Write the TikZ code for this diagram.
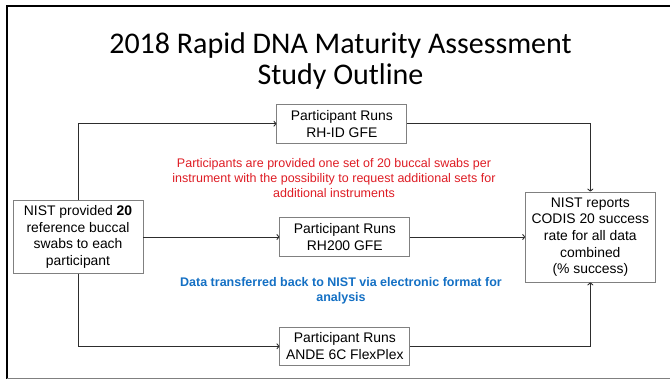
\documentclass[tikz,border=0pt]{standalone}
\usepackage{fontspec}
\setmainfont{Liberation Sans}
\newfontfamily\titlefont{Carlito}
\usepackage{tikz}
\usetikzlibrary{positioning,arrows.meta}
\usepackage{xcolor}

\definecolor{boxgray}{RGB}{128,128,128}
\definecolor{linegray}{RGB}{45,45,45}
\definecolor{notered}{RGB}{222,28,36}
\definecolor{noteblue}{RGB}{20,112,196}

\begin{document}
\begin{tikzpicture}[
    x=1pt, y=-1pt,
    stepbox/.style={
        rectangle,
        draw=boxgray,
        line width=0.8pt,
        fill=white,
        minimum width=130pt,
        minimum height=38.5pt,
        align=center,
        font=\fontsize{13.9}{16.7}\selectfont
    },
    flow/.style={
        draw=linegray,
        line width=0.9pt,
        -{To[length=3pt,width=6pt]}
    },
    note/.style={
        align=center,
        font=\fontsize{12.5}{15}\selectfont
    }
]

\useasboundingbox (0,0) rectangle (670,379);

% slide frame
\draw[line width=2pt] (7,379) -- (7,6) -- (671,6);
\draw[boxgray, line width=1pt] (7,378.3) -- (671,378.3);

\node[align=center, font=\titlefont\fontsize{30}{31}\selectfont] (title) at (340.5,61)
{2018 Rapid DNA Maturity Assessment\\Study Outline};

\node[stepbox, minimum height=72.5pt] (provided) at (78,237)
{NIST provided \textbf{20}\\reference buccal\\swabs to each\\participant};

\node[stepbox, right=136pt of provided] (rhtwo)
{Participant Runs\\RH200 GFE};

\node[stepbox, above=74pt of rhtwo, xshift=-3pt] (rhid)
{Participant Runs\\RH-ID GFE};

\node[stepbox, below=70pt of rhtwo] (ande)
{Participant Runs\\ANDE 6C FlexPlex};

\node[stepbox, minimum width=129.5pt, minimum height=90pt, right=115pt of rhtwo] (reports)
{NIST reports\\CODIS 20 success\\rate for all data\\combined\\(\% success)};

\node[note, text=notered] (swabnote) at (334,178.3)
{Participants are provided one set of 20 buccal swabs per\\instrument with the possibility to request additional sets for\\additional instruments};

\node[note, text=noteblue, font=\bfseries\fontsize{12.5}{15}\selectfont] (datanote) at (341,290.8)
{Data transferred back to NIST via electronic format for\\analysis};

\draw[flow] (provided.north) |- (rhid.west);
\draw[flow] (rhid.east) -| (reports.north);
\draw[flow] (provided) -- (rhtwo);
\draw[flow] (rhtwo) -- (reports);
\draw[flow] (provided.south) |- (ande.west);
\draw[flow] (ande.east) -| (reports.south);

\end{tikzpicture}
\end{document}
